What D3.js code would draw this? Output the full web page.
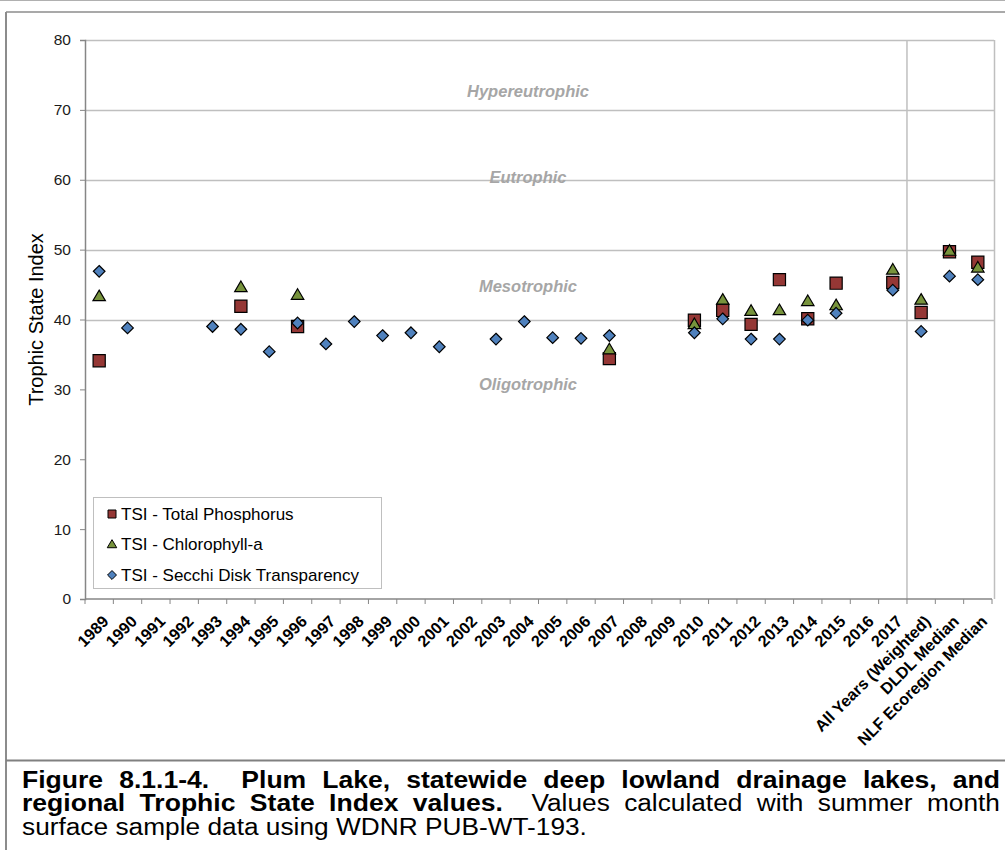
<!DOCTYPE html>
<html>
<head>
<meta charset="utf-8">
<script src="https://cdn.jsdelivr.net/npm/d3@7"></script>
<style>
  html, body { margin: 0; padding: 0; background: #fff; }
  svg { display: block; }
  text { font-family: "Liberation Sans", Arial, sans-serif; }
</style>
</head>
<body>
<svg id="chart" width="1005" height="850"></svg>
<script>
const categories = ["1989","1990","1991","1992","1993","1994","1995","1996","1997","1998","1999","2000","2001","2002","2003","2004","2005","2006","2007","2008","2009","2010","2011","2012","2013","2014","2015","2016","2017","All Years (Weighted)","DLDL Median","NLF Ecoregion Median"];
const tsiTP = [34.1,null,null,null,null,41.9,null,39.0,null,null,null,null,null,null,null,null,null,null,34.4,null,null,39.9,41.3,39.3,45.7,40.1,45.2,null,45.3,41.0,49.7,48.2];
const tsiChl = [43.3,null,null,null,null,44.6,null,43.5,null,null,null,null,null,null,null,null,null,null,35.7,null,null,39.3,42.8,41.2,41.3,42.6,42.0,null,47.1,42.8,49.8,47.4];
const tsiSD = [46.9,38.8,null,null,39.0,38.6,35.4,39.5,36.5,39.7,37.7,38.1,36.1,null,37.2,39.7,37.4,37.3,37.7,null,null,38.1,40.1,37.2,37.2,39.9,40.9,null,44.2,38.3,46.2,45.7];
const yTicks = [0,10,20,30,40,50,60,70,80];
const gridValues = [40,50,60,70,80];
const zones = [
  {label:"Hypereutrophic", v:72.6},
  {label:"Eutrophic", v:60.3},
  {label:"Mesotrophic", v:44.7},
  {label:"Oligotrophic", v:30.7}
];
const seriesNames = ["TSI - Total Phosphorus","TSI - Chlorophyll-a","TSI - Secchi Disk Transparency"];
const captionLines = [
  {bold:"Figure 8.1.1-4.  Plum Lake, statewide deep lowland drainage lakes, and", normal:"", justify:true},
  {bold:"regional Trophic State Index values.", normal:"  Values calculated with summer month", justify:true},
  {bold:"", normal:"surface sample data using WDNR PUB-WT-193.", justify:false}
];

const svg = d3.select("#chart");
const W = 1005, H = 850;

// frame
svg.append("line").attr("x1",0).attr("x2",W).attr("y1",0.5).attr("y2",0.5).attr("stroke","#b0b0b0").attr("stroke-width",1);
svg.append("line").attr("x1",6).attr("x2",W).attr("y1",12).attr("y2",12).attr("stroke","#8c8c8c").attr("stroke-width",1.5);
svg.append("line").attr("x1",6).attr("x2",6).attr("y1",12).attr("y2",H).attr("stroke","#8c8c8c").attr("stroke-width",2);
svg.append("line").attr("x1",6).attr("x2",W).attr("y1",760.5).attr("y2",760.5).attr("stroke","#808080").attr("stroke-width",2);

const plot = {left:85, right:994, top:40, bottom:599};
const x = d3.scaleBand().domain(categories).range([plot.left, plot.right - 2]);
const y = d3.scaleLinear().domain([0,80]).range([plot.bottom, plot.top]);

// gridlines
svg.append("g").selectAll("line").data(gridValues).join("line")
  .attr("x1", plot.left).attr("x2", plot.right)
  .attr("y1", d => Math.round(y(d)) + 0.5).attr("y2", d => Math.round(y(d)) + 0.5)
  .attr("stroke","#bfbfbf").attr("stroke-width",1.5);
svg.append("line").attr("x1", plot.right+0.5).attr("x2", plot.right+0.5)
  .attr("y1", y(80)).attr("y2", y(0)).attr("stroke","#bfbfbf").attr("stroke-width",1.5);
const sepX = x("All Years (Weighted)");
svg.append("line").attr("x1", sepX).attr("x2", sepX)
  .attr("y1", y(80)).attr("y2", y(0)).attr("stroke","#bfbfbf").attr("stroke-width",1.5);

// y axis
const yAxis = svg.append("g").attr("transform",`translate(${plot.left},0)`)
  .call(d3.axisLeft(y).tickValues(yTicks).tickSize(5).tickPadding(9).tickFormat(d3.format("d")));
yAxis.attr("font-family", null).attr("font-size", null);
yAxis.select(".domain").attr("stroke","#868686").attr("stroke-width",1.5);
yAxis.selectAll(".tick line").attr("stroke","#868686");
yAxis.selectAll("text").attr("font-size","15.5px").attr("fill","#1a1a1a");

// x axis
const xAxisG = svg.append("g").attr("transform",`translate(0,${plot.bottom})`);
xAxisG.append("line").attr("x1",plot.left).attr("x2",plot.right - 2).attr("y1",0).attr("y2",0).attr("stroke","#868686").attr("stroke-width",1.5);
const boundaries = categories.map(c => x(c)).concat([x.range()[1]]);
xAxisG.selectAll("line.tk").data(boundaries).join("line").attr("class","tk")
  .attr("x1", d => d).attr("x2", d => d).attr("y1",0).attr("y2",5)
  .attr("stroke","#868686").attr("stroke-width",1);
xAxisG.selectAll("text").data(categories).join("text")
  .attr("transform", d => `translate(${x(d) + x.bandwidth()/2 + 10.5},${23.5}) rotate(-45)`)
  .attr("text-anchor","end").attr("font-size","16.2px").attr("font-weight","bold").attr("fill","#000")
  .text(d => d);

// y axis title
svg.append("text").attr("transform",`translate(43,${(plot.top+plot.bottom)/2}) rotate(-90)`)
  .attr("text-anchor","middle").attr("font-size","20px").attr("fill","#000").text("Trophic State Index");

// zone labels
svg.append("g").selectAll("text").data(zones).join("text")
  .attr("x", 528).attr("y", d => y(d.v)).attr("dy","0.35em")
  .attr("text-anchor","middle").attr("font-size","16.5px").attr("font-weight","bold").attr("font-style","italic")
  .attr("fill","#a6a6a6").text(d => d.label);

// symbols
const triType = { draw(ctx, size) { const w = Math.sqrt(size), h = w*0.85; ctx.moveTo(0,-h*0.6); ctx.lineTo(w/2,h*0.4); ctx.lineTo(-w/2,h*0.4); ctx.closePath(); } };
const diaType = { draw(ctx, size) { const r = Math.sqrt(size)/2; ctx.moveTo(0,-r); ctx.lineTo(r,0); ctx.lineTo(0,r); ctx.lineTo(-r,0); ctx.closePath(); } };
const series = [
  {name:seriesNames[0], values:tsiTP, type:d3.symbolSquare, size:148, fill:"#953735"},
  {name:seriesNames[1], values:tsiChl, type:triType, size:155, fill:"#77933c"},
  {name:seriesNames[2], values:tsiSD, type:diaType, size:135, fill:"#4f81bd"}
];
series.forEach(s => {
  const pts = categories.map((c,i) => ({c, v:s.values[i]})).filter(d => d.v != null);
  svg.append("g").selectAll("path").data(pts).join("path")
    .attr("transform", d => `translate(${x(d.c) + x.bandwidth()/2},${y(d.v)})`)
    .attr("d", d3.symbol().type(s.type).size(s.size))
    .attr("fill", s.fill).attr("stroke","#000").attr("stroke-width",1.2);
});

// legend
const lg = svg.append("g");
lg.append("rect").attr("x",93.5).attr("y",497.5).attr("width",288).attr("height",91)
  .attr("fill","#fff").attr("stroke","#bfbfbf").attr("stroke-width",1);
const lsizes = [64, 90, 80];
series.forEach((s,i) => {
  const cy = 514 + i*30.5;
  lg.append("path").attr("transform",`translate(112,${cy})`)
    .attr("d", d3.symbol().type(s.type).size(lsizes[i])).attr("fill", s.fill).attr("stroke","#000").attr("stroke-width",1);
  lg.append("text").attr("x",121).attr("y",cy).attr("dy","0.35em").attr("font-size","17px").attr("fill","#000").text(s.name);
});

// caption (justified like the reference)
const capG = svg.append("g");
const capSize = 23.5;
const baselines = [787.5, 811, 834.5];
const capLeft = 22, capRight = 1000;
function measure(str, bold) {
  const t = capG.append("text").attr("font-size",capSize+"px").attr("font-weight", bold ? "bold" : "normal").text(str);
  const w = t.node().getComputedTextLength(); t.remove(); return w;
}
const sxNormal = 565 / measure("surface sample data using WDNR PUB-WT-193.", false);
const sxBold = 1.13;
captionLines.forEach((ln, li) => {
  const words = [];
  const addPart = (str, b) => {
    const re = /(\S+)(\s*)/g; let m;
    while ((m = re.exec(str)) !== null) {
      if (!m[1]) break;
      words.push({w:m[1], b, gapAfter: m[2].length});
    }
  };
  if (ln.bold) addPart(ln.bold, true);
  if (ln.normal) {
    const lead = ln.normal.match(/^\s+/);
    if (words.length && lead) words[words.length-1].gapAfter = lead[0].length;
    addPart(ln.normal.replace(/^\s+/, ""), false);
  }
  words[words.length-1].gapAfter = 0;
  const widths = words.map(wd => measure(wd.w, wd.b) * (wd.b ? sxBold : sxNormal));
  const total = d3.sum(widths);
  const gapUnits = d3.sum(words, w => w.gapAfter);
  const target = ln.justify ? (capRight - capLeft) : 565;
  const unit = (target - total) / gapUnits;
  let cx = capLeft;
  words.forEach((wd,i) => {
    capG.append("text")
      .attr("transform", `translate(${cx},${baselines[li]}) scale(${wd.b ? sxBold : sxNormal},1)`)
      .attr("font-size",capSize+"px").attr("font-weight", wd.b ? "bold" : "normal").attr("fill","#000")
      .text(wd.w);
    cx += widths[i] + unit * wd.gapAfter;
  });
});
</script>
</body>
</html>
